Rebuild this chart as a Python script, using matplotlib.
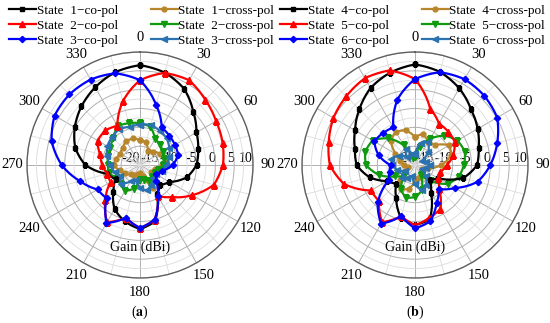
import numpy as np
import matplotlib
matplotlib.use('Agg')
import matplotlib.pyplot as plt
from matplotlib.lines import Line2D

plt.rcParams['font.family'] = ['Liberation Serif', 'DejaVu Serif']
plt.rcParams['mathtext.fontset'] = 'stix'

angles_deg = list(range(0, 360, 15))
r_ticks = [-20, -15, -10, -5, 0, 5, 10]
theta_labels = [0, 30, 60, 90, 120, 150, 180, 210, 240, 270, 300, 330]

# ---- panel (a) ----
a_labels = ['State  1\u2212co-pol', 'State  2\u2212co-pol', 'State  3\u2212co-pol',
            'State  1\u2212cross-pol', 'State  2\u2212cross-pol', 'State  3\u2212cross-pol']
a_s1_co = [6.5, 5.4, 3.4, 0.0, -2.7, -4.0, -5.0, -7.2, -11.0, -12.5, -11.0, -4.5,
           -3.0, -4.5, -6.5, -10.0, -12.5, -11.0, -5.5, -2.2, 0.0, 2.0, 3.8, 5.5]
a_s2_co = [2.5, 5.3, 6.0, 4.5, 3.3, 2.7, 2.0, 0.3, -4.0, -8.0, -10.5, -5.0,
           -3.3, -5.5, -2.5, -7.0, -11.0, -11.0, -10.0, -9.0, -7.0, -7.0, -8.0, -2.5]
a_s3_co = [2.5, -3.5, -8.5, -9.0, -9.3, -9.5, -11.3, -14.0, -15.0, -14.0, -10.5, -5.0,
           -3.3, -5.5, -2.2, -7.5, -7.0, -3.5, 0.8, 4.3, 6.2, 6.5, 6.2, 5.2]
a_s1_cx = [-13.4, -13.8, -15.8, -15.0, -13.9, -12.3, -14.2, -16.0, -16.5, -15.3, -13.1, -17.0,
           -18.0, -17.5, -17.0, -16.5, -15.5, -14.5, -13.0, -13.5, -14.0, -13.5, -12.7, -12.7]
a_s2_cx = [-8.9, -9.5, -12.0, -12.5, -13.0, -13.5, -13.8, -15.0, -15.5, -15.5, -15.2, -16.0,
           -16.0, -13.5, -12.1, -12.8, -13.1, -11.5, -11.5, -11.2, -10.9, -10.0, -8.1, -8.5]
a_s3_cx = [-9.3, -9.0, -9.5, -10.0, -11.0, -12.0, -13.0, -14.0, -15.0, -15.0, -14.0, -13.0,
           -14.0, -16.0, -15.0, -13.0, -14.0, -13.0, -12.0, -11.0, -10.0, -9.5, -9.0, -9.5]

# ---- panel (b) ----
b_labels = ['State  4\u2212co-pol', 'State  5\u2212co-pol', 'State  6\u2212co-pol',
            'State  4\u2212cross-pol', 'State  5\u2212cross-pol', 'State  6\u2212cross-pol']
b_s4_co = [6.7, 5.6, 3.5, 1.0, -0.8, -2.5, -3.5, -6.7, -13.0, -14.5, -11.5, -5.0,
           -4.1, -5.5, -10.0, -13.0, -11.5, -7.5, -4.5, -3.5, -1.6, 0.9, 3.6, 5.4]
b_s5_co = [2.8, -4.5, -7.3, -7.5, -7.8, -9.5, -11.5, -13.0, -13.0, -11.0, -6.5, -5.5,
           -4.0, -6.0, -2.5, -6.5, -6.5, -0.5, 2.6, 3.7, 5.0, 5.8, 6.6, 6.0]
b_s6_co = [2.8, 5.5, 6.3, 6.0, 5.2, 2.6, 0.0, -2.8, -7.8, -11.0, -8.5, -4.5,
           -3.2, -6.0, -2.0, -6.0, -12.0, -13.0, -13.5, -10.0, -7.5, -8.0, -8.5, -2.0]
b_s4_cx = [-12.5, -11.5, -13.0, -12.5, -9.5, -10.0, -13.0, -16.5, -18.0, -17.5, -17.0, -16.5,
           -15.5, -13.5, -12.5, -14.5, -17.0, -18.0, -17.0, -16.0, -14.0, -11.0, -9.8, -10.5]
b_s5_cx = [-18.0, -15.0, -12.0, -9.0, -7.0, -6.3, -7.0, -8.0, -10.0, -14.0, -17.0, -13.0,
           -11.5, -11.0, -12.5, -16.0, -14.0, -10.0, -7.0, -6.3, -7.0, -10.0, -14.0, -18.0]
b_s6_cx = [-17.0, -14.0, -13.0, -15.0, -18.0, -17.0, -16.0, -17.0, -18.0, -16.0, -14.0, -13.0,
           -15.0, -17.0, -16.0, -15.0, -17.0, -15.0, -14.0, -13.5, -15.0, -17.0, -15.0, -17.0]

colors = ['#000000', '#ff0000', '#0000ff', '#b8862b', '#109a10', '#2a72b0']
markers = ['s', '^', 'D', 'o', 'v', '<']
msizes = [3.5, 4, 3.2, 3.5, 4, 4]
zorders = [3.3, 3.4, 3.5, 3.0, 3.1, 3.2]

fig = plt.figure(figsize=(5.5, 3.23), dpi=100)
W, H = 550, 323
R = 113

def make_ax(cx, cy):
    ax = fig.add_axes([(cx - R) / W, (H - cy - R) / H, 2 * R / W, 2 * R / H],
                      projection='polar')
    ax.set_theta_zero_location('N')
    ax.set_theta_direction(-1)
    ax.set_ylim(-20, 10)
    ax.set_yticks(r_ticks)
    ax.set_yticklabels([])
    ax.set_yticks(np.arange(-17.5, 10, 5), minor=True)
    ax.set_xticks(np.deg2rad(theta_labels))
    ax.set_xticklabels([str(t) for t in theta_labels], fontsize=10.5)
    ax.set_xticks(np.deg2rad(np.arange(15, 360, 30)), minor=True)
    ax.tick_params(axis='x', pad=0)
    ax.grid(True, which='major', color='#b0b0b0', lw=0.7)
    ax.grid(True, which='minor', color='#dcdcdc', lw=0.6)
    ax.spines['polar'].set_color('#606060')
    ax.spines['polar'].set_linewidth(1.0)
    for v in r_ticks:
        ax.text(np.pi / 2, v, str(v), ha='right', va='bottom', fontsize=10,
                zorder=1)
    ax.text(np.pi, 1.8, 'Gain (dBi)', ha='center', va='center', fontsize=10)
    return ax

def draw(ax, series):
    th = np.deg2rad(angles_deg + [360])
    handles = []
    for i, s in enumerate(series):
        vals = list(s) + [s[0]]
        ln, = ax.plot(th, vals, color=colors[i], lw=1.6, marker=markers[i],
                      ms=msizes[i], zorder=zorders[i])
        ln.get_path()._interpolation_steps = 30
        handles.append(Line2D([], [], color=colors[i], lw=1.6, marker=markers[i],
                              ms=msizes[i]))
    return handles

ax1 = make_ax(140, 165)
h1 = draw(ax1, [a_s1_co, a_s2_co, a_s3_co, a_s1_cx, a_s2_cx, a_s3_cx])
ax2 = make_ax(415, 165)
h2 = draw(ax2, [b_s4_co, b_s5_co, b_s6_co, b_s4_cx, b_s5_cx, b_s6_cx])

for hs, labs, x0 in [(h1, a_labels, 0.010), (h2, b_labels, 0.503)]:
    fig.legend(hs, labs, ncol=2, loc='upper left', bbox_to_anchor=(x0, 0.996),
               frameon=False, fontsize=9.5, handlelength=2.05, handletextpad=0.05,
               columnspacing=2.5, labelspacing=0.2, borderaxespad=0.1,
               borderpad=0.15)

fig.text(140 / W, 1 - 312 / H, r'($\mathbf{a}$)', ha='center', va='center', fontsize=10)
fig.text(415 / W, 1 - 312 / H, r'($\mathbf{b}$)', ha='center', va='center', fontsize=10)

fig.savefig('out.png', dpi=100)
